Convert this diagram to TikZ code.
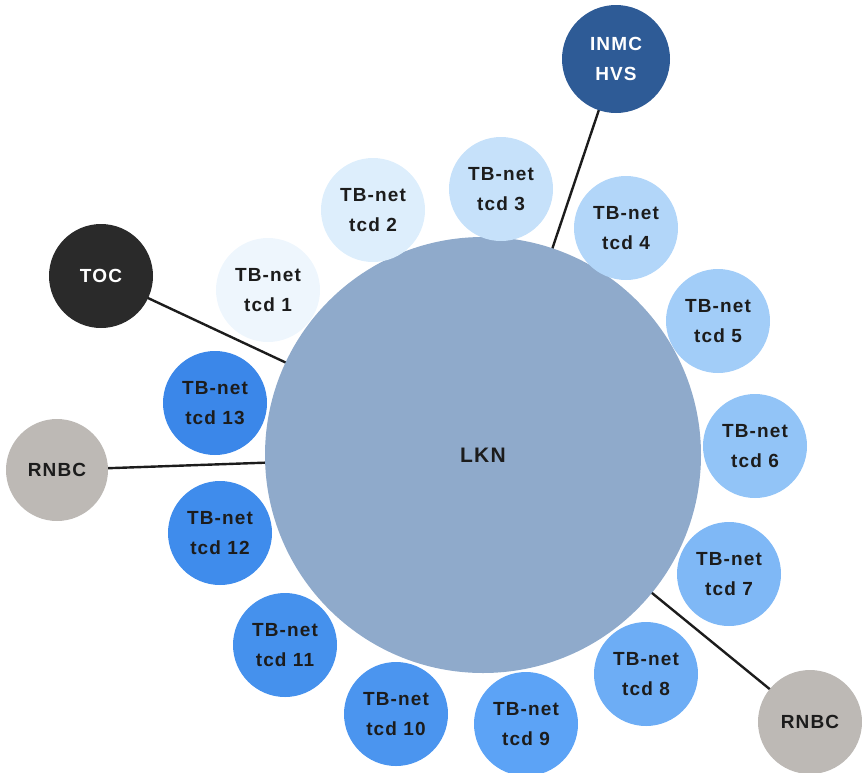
\documentclass[tikz,border=0pt]{standalone}
\usepackage{fontspec}
\setmainfont{Liberation Sans}
\newfontfamily\lblfont[LetterSpace=6]{Liberation Sans}
\definecolor{lkn}{HTML}{8FAACB}
\definecolor{inmc}{HTML}{2E5B96}
\definecolor{toc}{HTML}{2A2A2A}
\definecolor{rnbc}{HTML}{BDB9B5}
\definecolor{txt}{HTML}{1C1C1C}
\definecolor{c1}{HTML}{EEF6FD}
\definecolor{c2}{HTML}{DDEEFC}
\definecolor{c3}{HTML}{C6E1FA}
\definecolor{c4}{HTML}{B2D6F9}
\definecolor{c5}{HTML}{A2CDF8}
\definecolor{c6}{HTML}{92C4F7}
\definecolor{c7}{HTML}{7FB8F6}
\definecolor{c8}{HTML}{6DADF5}
\definecolor{c9}{HTML}{5CA3F6}
\definecolor{c10}{HTML}{4B95EF}
\definecolor{c11}{HTML}{4591ED}
\definecolor{c12}{HTML}{3F8CEC}
\definecolor{c13}{HTML}{3B87E9}
\tikzset{
  bubble/.style={circle, minimum size=104pt, inner sep=0pt, align=center,
    font=\lblfont\bfseries\fontsize{19}{30}\selectfont, text=txt},
  link/.style={line width=2.4pt, draw=txt},
}
\begin{document}
\begin{tikzpicture}[x=1pt,y=-1pt]
\useasboundingbox (0,0) rectangle (862,772);
% connectors drawn first (behind)
\coordinate (lc) at (483,455);
\coordinate (tocc) at (101,276);
\coordinate (inmcc) at (616,59);
\coordinate (rlc) at (57,470);
\coordinate (rrc) at (810,722);
\draw[link] (tocc) -- (lc);
\draw[link] (inmcc) -- (lc);
\draw[link] (rlc) -- (lc);
\draw[link] (rrc) -- (lc);
% main circle
\node[circle, fill=lkn, minimum size=436pt, inner sep=0pt,
  font=\lblfont\bfseries\fontsize{21}{26}\selectfont, text=txt] (lkn) at (lc) {LKN};
% outer nodes
\node[bubble, fill=toc, text=white] (toc) at (tocc) {TOC};
\node[bubble, fill=inmc, text=white, minimum size=108pt] (inmc) at (inmcc) {INMC\\HVS};
\node[bubble, fill=rnbc, minimum size=102pt] (rnbcl) at (rlc) {RNBC};
\node[bubble, fill=rnbc] (rnbcr) at (rrc) {RNBC};
% tcd bubbles
\node[bubble, fill=c1] (t1) at (268,290) {TB-net\\tcd 1};
\node[bubble, fill=c2] (t2) at (373,210) {TB-net\\tcd 2};
\node[bubble, fill=c3] (t3) at (501,189) {TB-net\\tcd 3};
\node[bubble, fill=c4] (t4) at (626,228) {TB-net\\tcd 4};
\node[bubble, fill=c5] (t5) at (718,321) {TB-net\\tcd 5};
\node[bubble, fill=c6] (t6) at (755,446) {TB-net\\tcd 6};
\node[bubble, fill=c7] (t7) at (729,574) {TB-net\\tcd 7};
\node[bubble, fill=c8] (t8) at (646,674) {TB-net\\tcd 8};
\node[bubble, fill=c9] (t9) at (526,724) {TB-net\\tcd 9};
\node[bubble, fill=c10] (t10) at (396,714) {TB-net\\tcd 10};
\node[bubble, fill=c11] (t11) at (285,645) {TB-net\\tcd 11};
\node[bubble, fill=c12] (t12) at (220,533) {TB-net\\tcd 12};
\node[bubble, fill=c13] (t13) at (215,403) {TB-net\\tcd 13};
\end{tikzpicture}
\end{document}
